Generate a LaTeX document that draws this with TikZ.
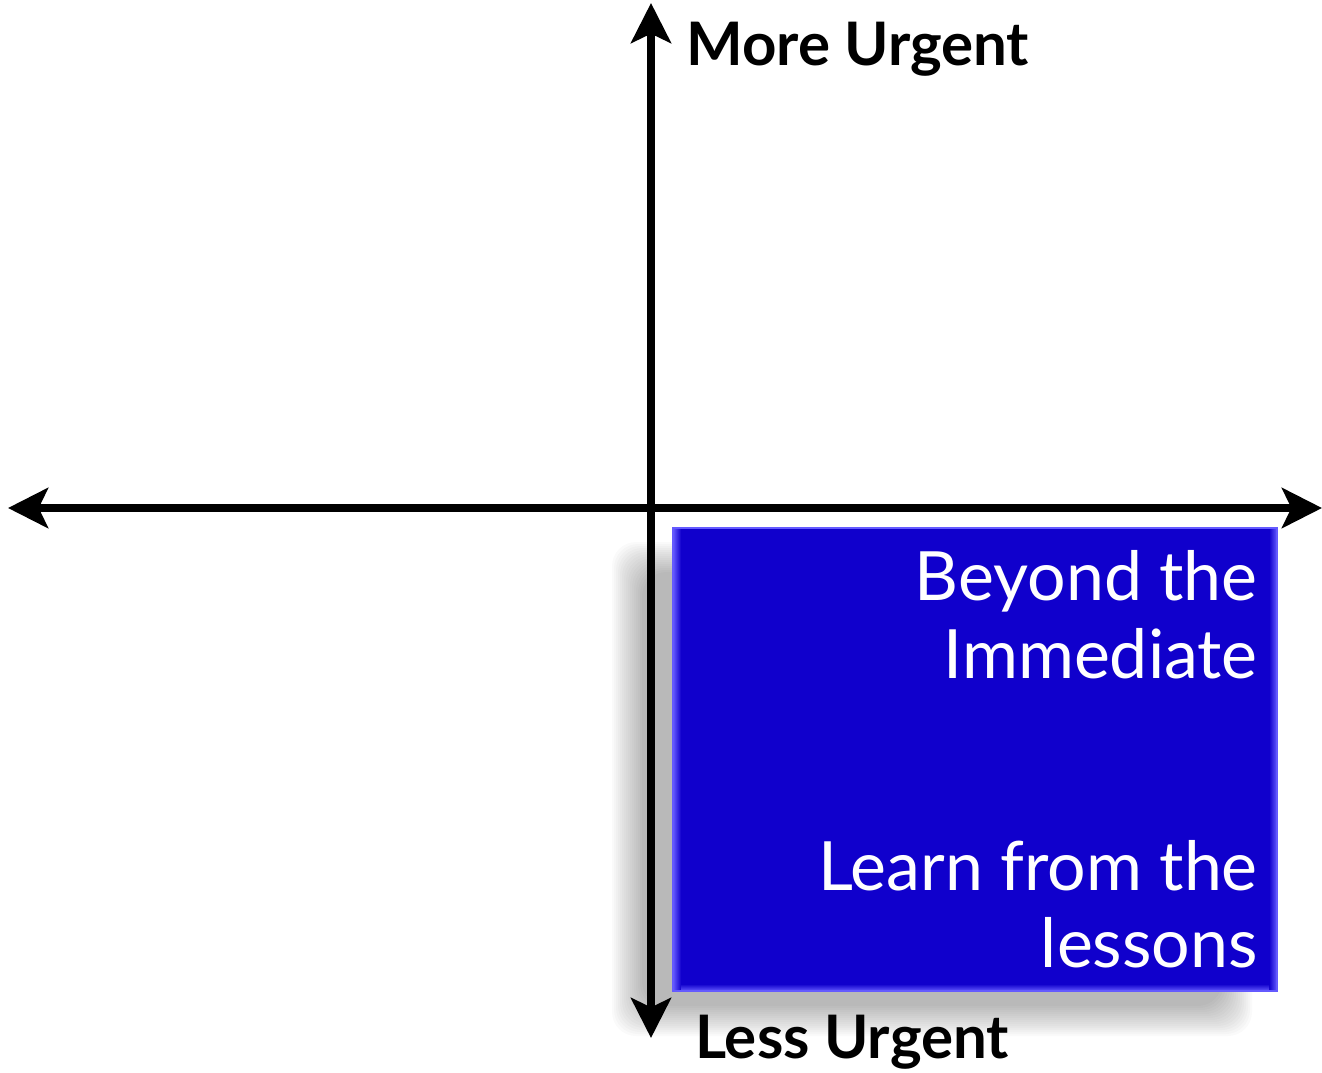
\documentclass[tikz,border=0pt]{standalone}
\usepackage{fontspec}
\setmainfont{Lato}
\usetikzlibrary{arrows.meta}
\definecolor{boxblue}{RGB}{16,0,204}
\definecolor{bevel}{RGB}{100,90,255}
\begin{document}
\begin{tikzpicture}[x=0.75pt,y=-0.75pt,
  axis/.style={line width=5.5pt,-{Stealth[length=30pt,width=30pt,inset=7pt]}},
  axlabel/.style={font=\bfseries\fontsize{45}{52}\selectfont,inner sep=0pt,anchor=base west},
  boxtext/.style={font=\fontsize{51}{58}\selectfont,text=white,inner sep=0pt,anchor=base east},
  shadowstep/.style={black,opacity=0.02,rounded corners=18pt}]
\useasboundingbox (0,0) rectangle (1322,1072);
% soft shadow
\foreach \i in {0,...,15}{
  \fill[shadowstep] (642-2*\i,572-2*\i) rectangle (1222+2*\i,1006+2*\i);
}
% box
\fill[boxblue] (673,528) rectangle (1277,991);
\fill[left color=bevel,right color=boxblue] (673,528) rectangle (681,991);
\fill[left color=boxblue,right color=bevel] (1269,528) rectangle (1277,991);
\fill[top color=boxblue,bottom color=bevel] (681,984) rectangle (1269,991);
\draw[bevel,line width=1.2pt] (673,528) rectangle (1277,991);
\node[boxtext] (t1) at (1258,600) {Beyond the};
\node[boxtext] (t2) at (1258,678) {Immediate};
\node[boxtext] (t3) at (1258,890) {Learn from the};
\node[boxtext] (t4) at (1258,967) {lessons};
% axes
\coordinate (top) at (651,3);
\coordinate (bot) at (651,1038);
\coordinate (left) at (8,508);
\coordinate (right) at (1322,508);
\coordinate (o) at (651,508);
\draw[axis] (o) -- (top);
\draw[axis] (o) -- (bot);
\draw[axis] (o) -- (left);
\draw[axis] (o) -- (right);
\node[axlabel] (mu) at (686,65) {More Urgent};
\node[axlabel] (lu) at (695,1058) {Less Urgent};
\end{tikzpicture}
\end{document}
